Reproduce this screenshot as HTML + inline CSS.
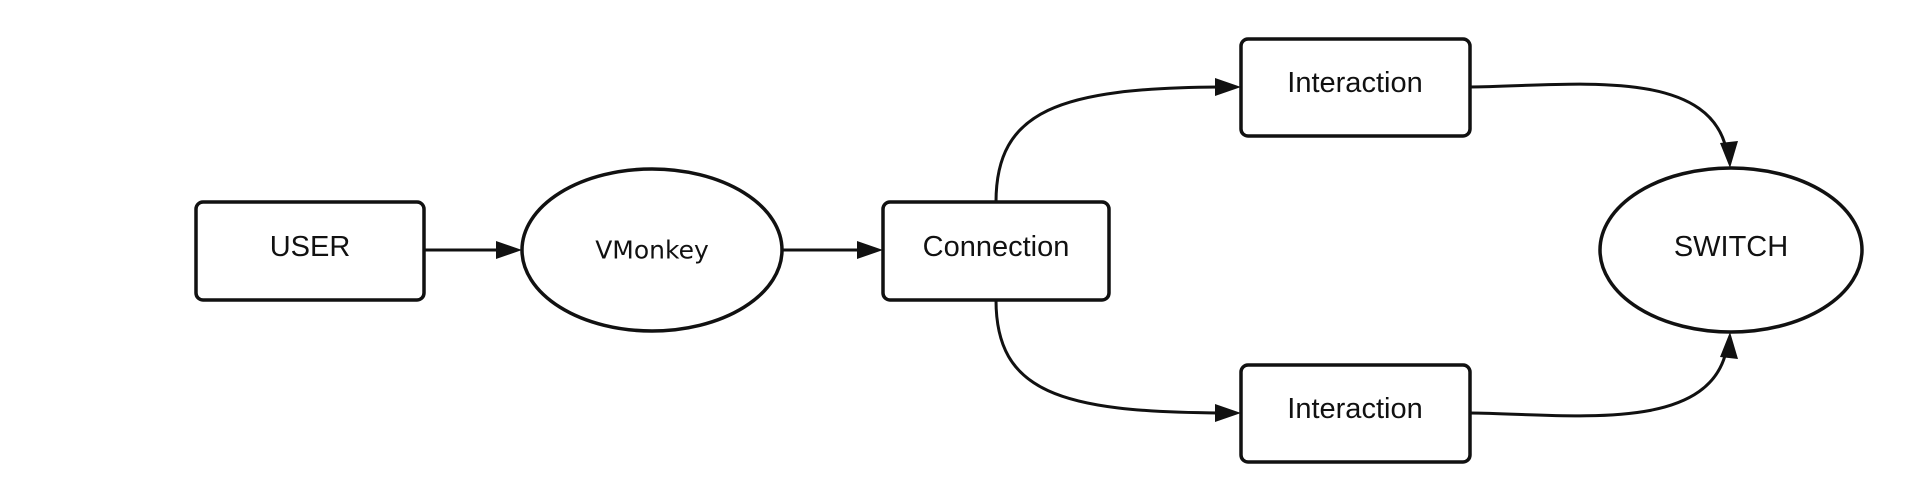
<!DOCTYPE html>
<html><head><meta charset="utf-8"><style>
html,body{margin:0;padding:0;background:#fff;width:1917px;height:493px;overflow:hidden}
svg{display:block}
text{font-family:"Liberation Sans",sans-serif;font-size:29px;fill:#111;text-anchor:middle;dominant-baseline:central}
</style></head><body>
<svg width="1917" height="493" viewBox="0 0 1917 493">
<g fill="#fff" stroke="#111" stroke-width="3.5">
<rect x="196" y="202" width="228" height="98" rx="7"/>
<ellipse cx="652" cy="250" rx="130" ry="81"/>
<rect x="883" y="202" width="226" height="98" rx="7"/>
<rect x="1241" y="39" width="229" height="97" rx="7"/>
<rect x="1241" y="365" width="229" height="97" rx="7"/>
<ellipse cx="1731" cy="250" rx="131" ry="82"/>
</g>
<g fill="none" stroke="#111" stroke-width="3">
<line x1="424" y1="250" x2="500" y2="250"/>
<line x1="782" y1="250" x2="862" y2="250"/>
<path d="M996,202 C996,110 1060,88 1220,87"/>
<path d="M996,300 C996,392 1060,412 1220,413"/>
<path d="M1470,87 C1570,86 1706,66 1726,148"/>
<path d="M1470,413 C1570,414 1706,434 1726,352"/>
</g>
<g fill="#111">
<polygon points="522,250 496,241 496,259"/>
<polygon points="883,250 857,241 857,259"/>
<polygon points="1241,87 1215,78 1215,96"/>
<polygon points="1241,413 1215,404 1215,422"/>
<polygon points="1730,168 1720,143 1738,141"/>
<polygon points="1730,332 1720,357 1738,359"/>
</g>
<text x="310" y="247">USER</text>
<text x="652" y="250" style="font-family:'DejaVu Sans',sans-serif;font-size:25px">VMonkey</text>
<text x="996" y="247">Connection</text>
<text x="1355" y="83">Interaction</text>
<text x="1355" y="409">Interaction</text>
<text x="1731" y="247">SWITCH</text>
</svg>
</body></html>
